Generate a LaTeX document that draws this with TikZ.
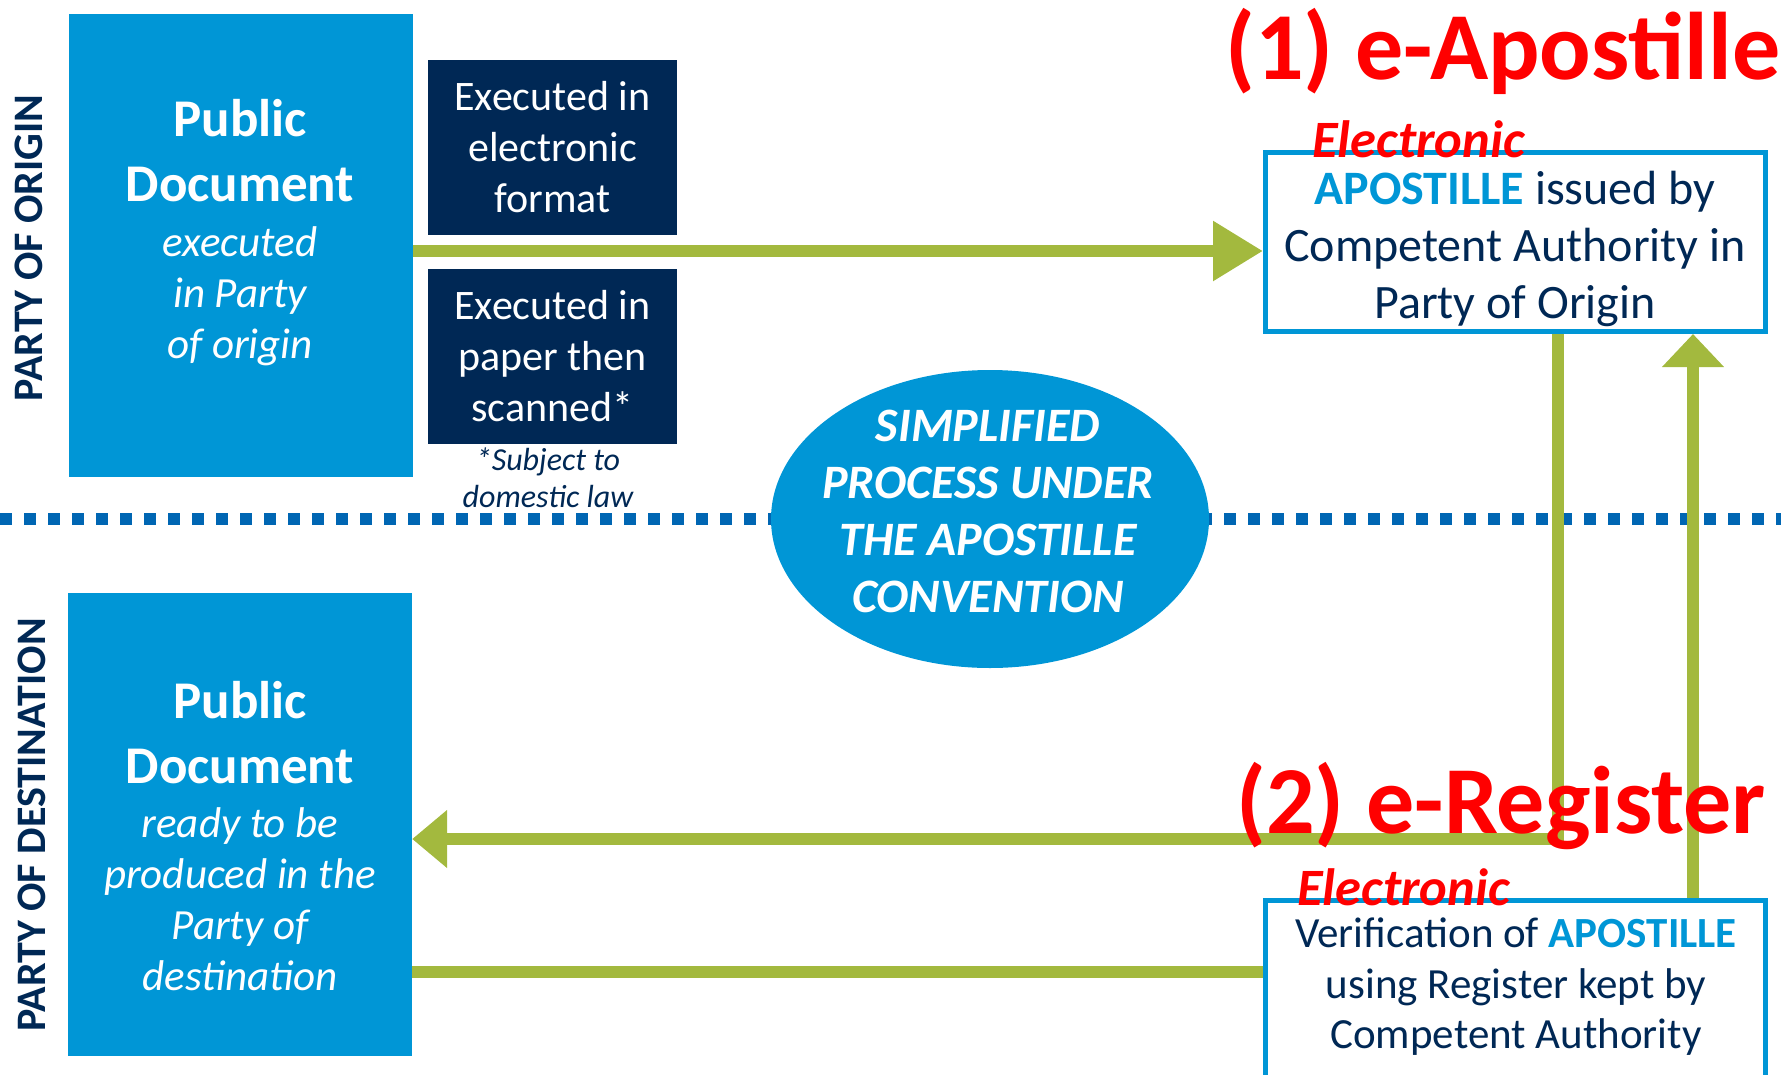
\documentclass[tikz,border=0pt]{standalone}
\usepackage{fontspec}
\setmainfont{Carlito}
\usepackage{xcolor}
\usetikzlibrary{arrows.meta,shapes.geometric}
\pgfdeclarelayer{edgelayer}
\pgfdeclarelayer{nodelayer}
\pgfsetlayers{edgelayer,main,nodelayer}

\definecolor{docblue}{RGB}{0,150,214}
\definecolor{navy}{RGB}{0,40,85}
\definecolor{leaf}{RGB}{163,185,62}
\definecolor{dotblue}{RGB}{0,102,179}
\definecolor{alert}{RGB}{255,0,0}

\newcommand{\docsub}{\fontsize{43}{52}\selectfont\mdseries\itshape}

\tikzset{
	docbox/.style={fill=docblue, inner sep=0, minimum width=344, minimum height=463},
	execbox/.style={fill=navy, text=white, inner sep=0, minimum width=249, minimum height=175, align=center, font=\fontsize{42}{51}\selectfont},
	authbox/.style={draw=docblue, fill=white, line width=5pt, inner sep=0, minimum width=500},
	doctext/.style={text=white, inner sep=0, align=center},
	authtext/.style={text=navy, inner sep=0, align=center},
	sidelabel/.style={rotate=90, anchor=base, inner sep=0, text=navy, font=\fontsize{42}{50}\selectfont\bfseries},
	elabel/.style={anchor=base west, inner sep=0, text=alert, font=\fontsize{52.5}{60}\selectfont\bfseries\itshape},
	steplabel/.style={anchor=base west, inner sep=0, text=alert, font=\fontsize{96}{110}\selectfont\bfseries},
	flow/.style={draw=leaf, line width=12pt},
	divider/.style={draw=dotblue, line width=12pt, dash pattern=on 12pt off 12pt}
}

\begin{document}
\begin{tikzpicture}[x=1pt, y=-1pt]
	\useasboundingbox (0,0) rectangle (1781,1074);
	\begin{pgfonlayer}{nodelayer}
		\node [docbox] (0) at (240.5, 245.5) {};
		\node [doctext, font=\fontsize{53}{63}\selectfont\bfseries] (1) at (240, 233) {Public\\[2pt]Document\\[-8pt]\docsub executed\\[-12pt]\docsub in Party\\[-12pt]\docsub of origin};
		\node [docbox] (2) at (240, 824.5) {};
		\node [doctext, font=\fontsize{53}{63}\selectfont\bfseries] (3) at (240, 836) {Public\\[2pt]Document\\[-9pt]\docsub ready to be\\[-12pt]\docsub produced in the\\[-12pt]\docsub Party of\\[-12pt]\docsub destination};
		\node [sidelabel] (4) at (42, 248) {PARTY OF ORIGIN};
		\node [sidelabel] (5) at (45, 825) {PARTY OF DESTINATION};
		\node [execbox] (6) at (552.5, 147.5) {Executed in\\electronic\\format};
		\node [execbox] (7) at (552.5, 356.5) {Executed in\\paper then\\scanned*};
		\node [authtext, font=\fontsize{32}{37}\selectfont\itshape] (8) at (548, 478) {*Subject to\\domestic law};
		\node [ellipse, fill=docblue, inner sep=0, minimum width=438, minimum height=298] (9) at (990, 519) {};
		\node [doctext, font=\fontsize{48}{57}\selectfont\bfseries\itshape] (10) at (988, 511) {SIMPLIFIED\\PROCESS UNDER\\THE APOSTILLE\\CONVENTION};
		\node [authbox, minimum height=179] (11) at (1515.5, 242) {};
		\node [authtext, font=\fontsize{48}{57}\selectfont] (12) at (1515, 249) {{\bfseries\color{docblue}APOSTILLE} issued by\\Competent Authority in\\Party of Origin};
		\node [authbox, minimum height=190] (13) at (1515.5, 995) {};
		\node [authtext, font=\fontsize{43}{50.5}\selectfont] (14) at (1516, 987) {Verification of {\bfseries\color{docblue}APOSTILLE}\\using Register kept by\\Competent Authority};
		\node [elabel] (15) at (1312, 157) {Electronic};
		\node [elabel] (16) at (1297, 905) {Electronic};
		\node [steplabel] (17) at (1225, 79) {(1) e-Apostille};
		\node [steplabel] (18) at (1236, 833) {(2) e-Register};
	\end{pgfonlayer}
	\coordinate (19) at (0, 251);
	\coordinate (20) at (1558, 839);
	\coordinate (21) at (0, 972);
	\coordinate (22) at (1693, 0);
	\coordinate (23) at (0, 519);
	\coordinate (24) at (1781, 519);
	\begin{pgfonlayer}{edgelayer}
		\draw [divider] (23) to (24);
		\draw [flow, -{Triangle[length=50pt, width=57pt]}] (0.east |- 19) to (11.west |- 19);
		\draw [flow, -{Triangle[length=35pt, width=56pt]}] (11.south -| 20) |- (2.east |- 20);
		\draw [flow] (2.east |- 21) to (13.west |- 21);
		\draw [flow, -{Triangle[length=33pt, width=60pt]}] (13.north -| 22) to (11.south -| 22);
	\end{pgfonlayer}
\end{tikzpicture}
\end{document}
